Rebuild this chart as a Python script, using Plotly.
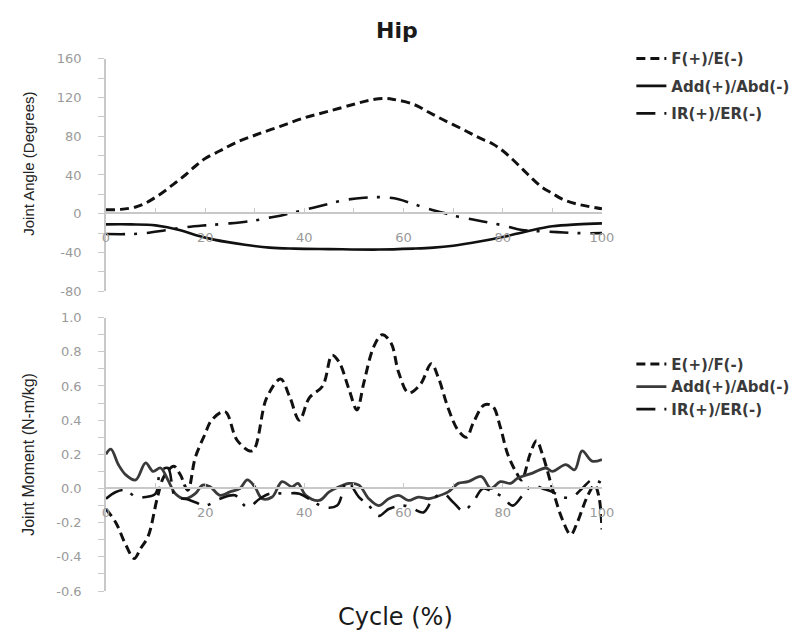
import plotly.graph_objects as go

# ---------------- Data ----------------
# Top panel: joint angle (degrees) vs cycle (%)
angle_fe_x = [0, 3, 6, 8, 10, 12, 14, 16, 18, 20, 23, 26, 30, 35, 40, 45, 50, 53, 56, 58, 62, 65, 68, 72, 75, 78, 80, 82, 84, 86, 88, 90, 92, 95, 100]
angle_fe_y = [4, 4.5, 7, 11, 17, 24, 32, 40, 49, 57, 65, 73, 81, 90, 99, 106, 113, 117, 119, 118, 113, 105, 97, 87, 79, 72, 65, 56, 46, 36, 27, 21, 15, 10, 5]

angle_add_x = [0, 5, 10, 15, 18, 22, 28, 33, 38, 45, 55, 62, 66, 70, 75, 80, 85, 90, 95, 100]
angle_add_y = [-11, -11, -12, -17, -22, -27, -32, -35, -36, -36.5, -37, -36, -35, -33, -29, -24, -18, -13, -11, -10]

angle_ir_x = [0, 5, 8, 12, 16, 20, 25, 30, 33, 36, 40, 44, 48, 52, 56, 59, 62, 65, 68, 70, 73, 76, 80, 83, 87, 91, 95, 100]
angle_ir_y = [-21, -21, -20, -17, -14, -12, -10, -7, -4, -1, 4, 9, 14, 16.5, 17, 15, 10, 5, 1, -2, -5, -8, -12, -16, -18, -19, -20, -20]

# Bottom panel: joint moment (N-m/kg) vs cycle (%)
moment_ef_x = [0, 2, 4, 5.7, 7, 8.5, 10.4, 11.7, 13.7, 15, 16.5, 18, 20, 21.3, 24, 26.5, 29.5, 32.4, 35.2, 37, 39, 41, 43.7, 45.6, 47, 49, 50.6, 52, 54, 55.7, 57.5, 59, 61, 63.4, 65.6, 67, 69, 71, 72.7, 74, 76.3, 78, 79.5, 81, 82.8, 83.8, 85.5, 86.8, 88, 90, 92, 93.7, 95, 97, 98.5, 99.4, 100]
moment_ef_y = [-0.12, -0.2, -0.33, -0.41, -0.35, -0.28, -0.05, 0.07, 0.13, 0.08, -0.01, 0.18, 0.32, 0.40, 0.45, 0.28, 0.22, 0.53, 0.64, 0.54, 0.40, 0.53, 0.60, 0.78, 0.74, 0.58, 0.46, 0.62, 0.83, 0.90, 0.85, 0.68, 0.56, 0.61, 0.73, 0.65, 0.47, 0.34, 0.30, 0.38, 0.49, 0.48, 0.36, 0.20, 0.09, 0.05, 0.20, 0.28, 0.20, 0.0, -0.18, -0.27, -0.20, -0.05, 0.02, -0.05, -0.24]

moment_add_x = [0, 1, 2.5, 4, 6, 8, 9.5, 11, 12.5, 14, 16, 18, 19.5, 21, 23, 25, 27, 28.5, 30, 31.5, 33.5, 35.5, 37.5, 38.7, 40.3, 43, 45, 47, 49, 51, 53, 55, 57, 59, 61, 63, 65, 66.4, 69, 71, 73, 75.7, 77.6, 79.5, 81.6, 83, 86, 88.7, 90, 92.7, 94.5, 96, 98, 100]
moment_add_y = [0.20, 0.23, 0.14, 0.08, 0.05, 0.15, 0.10, 0.12, 0.05, -0.03, -0.06, -0.03, 0.02, 0.01, -0.04, -0.02, 0.0, 0.05, 0.01, -0.06, -0.05, 0.04, 0.01, 0.03, -0.04, -0.07, -0.02, 0.01, 0.03, 0.02, -0.06, -0.10, -0.06, -0.04, -0.07, -0.05, -0.06, -0.05, -0.02, 0.03, 0.04, 0.07, 0.0, 0.04, 0.03, 0.06, 0.09, 0.12, 0.10, 0.14, 0.11, 0.22, 0.16, 0.17]

moment_ir_x = [0, 2, 4, 6, 8, 10, 11, 12.5, 14, 16, 18, 20, 23, 26, 28.5, 31, 33, 36, 39, 42, 44, 46.6, 48.6, 51, 53, 55, 57, 60, 62, 64, 66, 68, 70, 72, 74, 76, 78, 80, 82, 84, 86, 88, 90, 92, 94, 96, 98, 100]
moment_ir_y = [-0.06, -0.02, -0.01, -0.05, -0.05, -0.03, 0.10, 0.12, -0.05, -0.06, -0.08, -0.10, -0.06, -0.04, -0.11, -0.06, -0.03, -0.03, -0.03, -0.08, -0.11, -0.10, 0.04, -0.05, -0.10, -0.16, -0.12, -0.10, -0.12, -0.14, -0.06, -0.03, -0.08, -0.13, -0.08, 0.0, -0.02, -0.05, -0.10, -0.04, 0.02, 0.0, -0.02, -0.05, -0.05, 0.0, 0.05, 0.03]

x_ticks = [0, 20, 40, 60, 80, 100]
angle_ticks = [-80, -40, 0, 40, 80, 120, 160]
moment_ticks = [-0.6, -0.4, -0.2, 0.0, 0.2, 0.4, 0.6, 0.8, 1.0]

top_names = ["F(+)/E(-)", "Add(+)/Abd(-)", "IR(+)/ER(-)"]
bottom_names = ["E(+)/F(-)", "Add(+)/Abd(-)", "IR(+)/ER(-)"]

# ---------------- Layout geometry ----------------
W, H = 811, 643
def px_x(p):
    return p / W
def px_y(p):
    return 1 - p / H

DASH = "9px,5px"
DASHDOT = "19px,9px,3px,10px"

fig = go.Figure()

fig.add_trace(go.Scatter(x=angle_fe_x, y=angle_fe_y, mode="lines", name=top_names[0],
                         line=dict(color="#111111", width=3, dash=DASH, shape="spline"),
                         xaxis="x", yaxis="y", legend="legend", legendgroup="a"))
fig.add_trace(go.Scatter(x=angle_add_x, y=angle_add_y, mode="lines", name=top_names[1],
                         line=dict(color="#111111", width=2.6, shape="spline"),
                         xaxis="x", yaxis="y", legend="legend", legendgroup="b"))
fig.add_trace(go.Scatter(x=angle_ir_x, y=angle_ir_y, mode="lines", name=top_names[2],
                         line=dict(color="#111111", width=2.6, dash=DASHDOT, shape="spline"),
                         xaxis="x", yaxis="y", legend="legend", legendgroup="c"))

fig.add_trace(go.Scatter(x=moment_ef_x, y=moment_ef_y, mode="lines", name=bottom_names[0],
                         line=dict(color="#111111", width=3, dash=DASH, shape="spline"),
                         xaxis="x2", yaxis="y2", legend="legend2", legendgroup="d"))
fig.add_trace(go.Scatter(x=moment_add_x, y=moment_add_y, mode="lines", name=bottom_names[1],
                         line=dict(color="#3a3a3a", width=2.8, shape="spline"),
                         xaxis="x2", yaxis="y2", legend="legend2", legendgroup="e"))
fig.add_trace(go.Scatter(x=moment_ir_x, y=moment_ir_y, mode="lines", name=bottom_names[2],
                         line=dict(color="#111111", width=2.6, dash=DASHDOT, shape="spline"),
                         xaxis="x2", yaxis="y2", legend="legend2", legendgroup="f"))

tick_font = dict(family="DejaVu Sans", size=13, color="#9a9a9a")
axis_col = "#c8c8c8"

x_dom = [px_x(104), px_x(610)]
top_dom = [px_y(291), px_y(53)]
bot_dom = [px_y(598), px_y(318)]

def xaxis_cfg(pos):
    return dict(domain=x_dom, range=[0, 100], anchor="free", position=pos,
                showline=True, linecolor=axis_col, linewidth=1.5,
                showgrid=False, zeroline=False,
                tickmode="array", tickvals=x_ticks, ticktext=[str(v) for v in x_ticks],
                ticks="inside", ticklen=4, tickcolor=axis_col,
                minor=dict(dtick=10, ticks="inside", ticklen=4, tickcolor=axis_col),
                tickfont=tick_font, ticklabelstandoff=13)

def yaxis_cfg(dom, rng, ticks, minor, xref, fmt):
    return dict(domain=dom, range=rng, anchor=xref,
                showline=True, linecolor=axis_col, linewidth=1.5,
                showgrid=False, zeroline=False,
                tickmode="array", tickvals=ticks, ticktext=[fmt(v) for v in ticks],
                ticks="outside", ticklen=6, tickcolor=axis_col,
                minor=dict(dtick=minor, ticks="outside", ticklen=6, tickcolor=axis_col),
                tickfont=tick_font, ticklabelstandoff=14)

legend_font = dict(family="DejaVu Sans", size=15, color="#3a3a3a", weight="bold")

fig.update_layout(
    width=W, height=H,
    margin=dict(l=0, r=0, t=0, b=0),
    paper_bgcolor="white", plot_bgcolor="white",
    xaxis=xaxis_cfg(px_y(211)),
    yaxis=yaxis_cfg(top_dom, [-80, 160], angle_ticks, 20, "x", lambda v: str(v)),
    xaxis2=xaxis_cfg(px_y(492)),
    yaxis2=yaxis_cfg(bot_dom, [-0.6, 1.0], moment_ticks, 0.1, "x2", lambda v: f"{v:.1f}"),
    legend=dict(x=px_x(640), y=px_y(36), xanchor="left", yanchor="top",
                traceorder="grouped", tracegroupgap=5,
                font=legend_font, bgcolor="rgba(0,0,0,0)"),
    legend2=dict(x=px_x(640), y=px_y(349), xanchor="left", yanchor="top",
                 traceorder="grouped", tracegroupgap=0,
                 font=legend_font, bgcolor="rgba(0,0,0,0)"),
    showlegend=True,
)

fig.add_annotation(text="Hip", x=px_x(401), y=px_y(24), xref="paper", yref="paper",
                   showarrow=False, xanchor="center", yanchor="middle",
                   font=dict(family="DejaVu Sans", size=22, color="#1a1a1a", weight="bold"))
fig.add_annotation(text="Joint Angle (Degrees)", x=px_x(25), y=px_y(161), xref="paper", yref="paper",
                   showarrow=False, textangle=-90, xanchor="center", yanchor="middle",
                   font=dict(family="Liberation Sans", size=15, color="#222222"))
fig.add_annotation(text="Joint Moment (N-m/kg)", x=px_x(25), y=px_y(458), xref="paper", yref="paper",
                   showarrow=False, textangle=-90, xanchor="center", yanchor="middle",
                   font=dict(family="Liberation Sans", size=16, color="#222222"))
fig.add_annotation(text="Cycle (%)", x=px_x(399), y=px_y(625), xref="paper", yref="paper",
                   showarrow=False, xanchor="center", yanchor="middle",
                   font=dict(family="DejaVu Sans", size=24, color="#1a1a1a"))

fig.write_html("out.html")
